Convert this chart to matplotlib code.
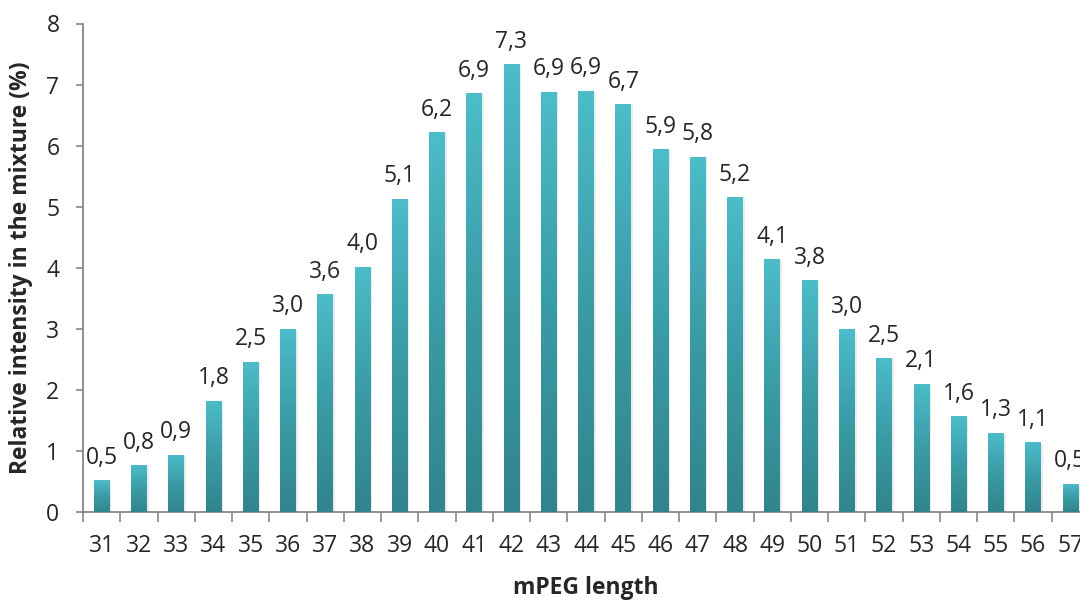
import matplotlib
matplotlib.use("Agg")
import matplotlib.pyplot as plt
import numpy as np
from matplotlib.colors import LinearSegmentedColormap
from matplotlib.patches import Rectangle

# mPEG chain length and relative intensity (%)
lengths = list(range(31, 58))
intensity = [0.52, 0.77, 0.94, 1.82, 2.46, 3.0, 3.57, 4.02, 5.13, 6.22, 6.86, 7.33, 6.88,
             6.9, 6.68, 5.94, 5.82, 5.16, 4.14, 3.8, 2.99, 2.52, 2.1, 1.57, 1.3, 1.14, 0.46]
y_ticks = [0, 1, 2, 3, 4, 5, 6, 7, 8]

plt.rcParams["font.family"] = ["Open Sans", "DejaVu Sans"]
axis_grey = "#868686"
text_col = "#262626"
fs = 16.5

fig = plt.figure(figsize=(10.8, 6), dpi=100)
ax = fig.add_axes([83 / 1080, 88 / 600, 1006 / 1080, 488.5 / 600])

x = np.arange(len(lengths))
width = 0.42
bars = ax.bar(x, intensity, width=width, color="none", edgecolor="none", zorder=3)

# soft shadow to the right, then a vertical gradient in each bar
cmap = LinearSegmentedColormap.from_list("teal", ["#31848d", "#3a9ca6", "#4cbdc9"])
grad = np.linspace(0, 1, 256).reshape(-1, 1)
for xi, h, b in zip(x, intensity, bars):
    ax.add_patch(Rectangle((xi - width / 2 + 0.05, 0), width, h - 0.02,
                           facecolor="#000000", alpha=0.08, edgecolor="none", zorder=2))
    im = ax.imshow(grad, cmap=cmap, origin="lower", aspect="auto",
                   extent=(xi - width / 2, xi + width / 2, 0, h), zorder=3)
    im.set_clip_path(b)
    ax.annotate(f"{h:.1f}".replace(".", ","), (xi, h), xytext=(0, 7.5),
                textcoords="offset points", ha="center", va="bottom",
                fontsize=fs, color=text_col, zorder=4, annotation_clip=False)

ax.set_xlim(-0.5, len(lengths) - 0.5)
ax.set_ylim(0, 8)
ax.set_yticks(y_ticks)
ax.set_xticks(x)
ax.set_xticklabels([str(v) for v in lengths])
ax.set_xticks(np.arange(-0.5, len(lengths), 1), minor=True)

for side in ("top", "right"):
    ax.spines[side].set_visible(False)
for side in ("left", "bottom"):
    ax.spines[side].set_color(axis_grey)
    ax.spines[side].set_linewidth(1.3)

ax.tick_params(axis="y", direction="out", length=5, width=1.2, color=axis_grey,
               labelsize=fs, labelcolor=text_col, pad=12)
ax.tick_params(axis="x", which="major", length=0, labelsize=fs, labelcolor=text_col, pad=16)
ax.tick_params(axis="x", which="minor", direction="out", length=7, width=1.2, color=axis_grey)

fig.text(586 / 1080, 12 / 600, "mPEG length", ha="center", va="center",
         fontsize=fs, fontweight="bold", color=text_col)
fig.text(21 / 1080, (600 - 268) / 600, "Relative intensity in the mixture (%)", ha="center",
         va="center", rotation=90, fontsize=fs, fontweight="bold", color=text_col)

fig.savefig("out.png", dpi=100)
